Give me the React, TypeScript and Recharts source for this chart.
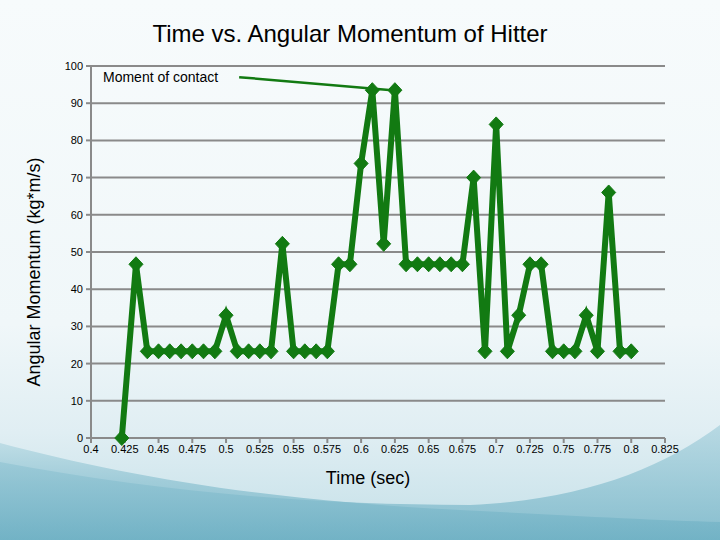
import React from 'react';
import { LineChart, Line, XAxis, YAxis, CartesianGrid, ReferenceLine } from 'recharts';

const times = [
  0.4228, 0.4333, 0.4417, 0.45, 0.4583, 0.4667, 0.475, 0.4833, 0.4917, 0.5,
  0.5083, 0.5167, 0.525, 0.5333, 0.5417, 0.55, 0.5583, 0.5667, 0.575, 0.5833,
  0.5917, 0.6, 0.6083, 0.6167, 0.625, 0.6333, 0.6417, 0.65, 0.6583, 0.6667,
  0.675, 0.6833, 0.6917, 0.7, 0.7083, 0.7167, 0.725, 0.7333, 0.7417, 0.75,
  0.7583, 0.7667, 0.775, 0.7833, 0.7917, 0.8,
];

const momentum = [
  0, 46.7, 23.3, 23.3, 23.3, 23.3, 23.3, 23.3, 23.3, 33.0,
  23.3, 23.3, 23.3, 23.3, 52.2, 23.3, 23.3, 23.3, 23.3, 46.7,
  46.7, 73.8, 93.5, 52.2, 93.5, 46.7, 46.7, 46.7, 46.7, 46.7,
  46.7, 70.0, 23.3, 84.3, 23.3, 33.0, 46.7, 46.7, 23.3, 23.3,
  23.3, 33.0, 23.3, 66.0, 23.3, 23.3,
];

const xTicks = [0.4, 0.425, 0.45, 0.475, 0.5, 0.525, 0.55, 0.575, 0.6, 0.625, 0.65, 0.675, 0.7, 0.725, 0.75, 0.775, 0.8, 0.825];
const yTicks = [0, 10, 20, 30, 40, 50, 60, 70, 80, 90, 100];

const title = 'Time vs. Angular Momentum of Hitter';
const xLabel = 'Time (sec)';
const yLabel = 'Angular Momentum (kg*m/s)';
const noteText = 'Moment of contact';
const noteStart = { x: 0.5097, y: 97.0 };
const noteEnd = { x: 0.625, y: 93.4 };

const data = times.map((t, i) => ({ t, v: momentum[i] }));

const GREEN = '#127a12';
const FONT = '"Liberation Sans", Arial, sans-serif';

const Diamond = (props: any) => {
  const { cx, cy } = props;
  if (cx == null || cy == null) return null;
  const w = 7;
  const h = 7.5;
  return (
    <polygon
      points={`${cx},${cy - h} ${cx + w},${cy} ${cx},${cy + h} ${cx - w},${cy}`}
      fill={GREEN}
      stroke={GREEN}
      strokeWidth={1}
    />
  );
};

const fmt = (v: number) => String(Number(v.toFixed(3)));

export default function App() {
  return (
    <div style={{ position: 'absolute', left: 0, top: 0, width: 720, height: 540, overflow: 'hidden', fontFamily: FONT }}>
      <svg width={720} height={540} style={{ position: 'absolute', left: 0, top: 0 }}>
        <defs>
          <linearGradient id="bg" x1="0" y1="0" x2="0" y2="1">
            <stop offset="0" stopColor="#f7fbfc" />
            <stop offset="0.6" stopColor="#f0f7f9" />
            <stop offset="0.8" stopColor="#e0eef3" />
            <stop offset="1" stopColor="#c4e0e8" />
          </linearGradient>
          <linearGradient id="sw" x1="0" y1="0" x2="0" y2="1">
            <stop offset="0" stopColor="#b3d7e1" />
            <stop offset="0.4" stopColor="#8fc3d2" />
            <stop offset="1" stopColor="#6aaec2" />
          </linearGradient>
          <linearGradient id="sw3" x1="0" y1="0" x2="0" y2="1">
            <stop offset="0" stopColor="#a6d0dc" />
            <stop offset="1" stopColor="#6cafc3" />
          </linearGradient>
        </defs>
        <rect x={0} y={0} width={720} height={540} fill="url(#bg)" />
        <path d="M0,443 C120,475 260,500 460,510 C560,515 650,520 720,522 L720,540 L0,540 Z" fill="url(#sw)" opacity={0.75} />
        <path d="M0,462 C150,490 300,505 470,505 C580,500 660,470 720,425 L720,540 L0,540 Z" fill="url(#sw3)" opacity={0.7} />
      </svg>
      <div style={{ position: 'absolute', left: 0, top: 0 }}>
        <LineChart width={720} height={540} data={data} margin={{ top: 66, right: 55, left: 0, bottom: 0 }}>
          <CartesianGrid vertical={false} stroke="#8a8a8a" strokeWidth={2} />
          <XAxis
            dataKey="t"
            type="number"
            domain={[0.4, 0.825]}
            ticks={xTicks}
            tickFormatter={fmt}
            height={102}
            stroke="#8a8a8a"
            strokeWidth={2}
            tickSize={5}
            tickMargin={2}
            tick={{ fill: '#000', fontSize: 11, fontFamily: FONT }}
            interval={0}
          />
          <YAxis
            type="number"
            domain={[0, 100]}
            ticks={yTicks}
            width={91}
            stroke="#8a8a8a"
            strokeWidth={2}
            tickSize={5}
            tickMargin={3}
            tick={{ fill: '#000', fontSize: 11, fontFamily: FONT }}
            interval={0}
          />
          <ReferenceLine
            segment={[noteStart, noteEnd]}
            stroke={GREEN}
            strokeWidth={2.5}
            ifOverflow="visible"
          />
          <Line
            type="linear"
            dataKey="v"
            stroke={GREEN}
            strokeWidth={6}
            dot={<Diamond />}
            activeDot={false}
            isAnimationActive={false}
          />
        </LineChart>
      </div>
      <div style={{ position: 'absolute', left: 0, width: 700, top: 19, textAlign: 'center', fontSize: 24, color: '#000', lineHeight: '30px' }}>
        {title}
      </div>
      <div style={{ position: 'absolute', left: 103, top: 68, fontSize: 14, color: '#000', lineHeight: '18px' }}>
        {noteText}
      </div>
      <div style={{ position: 'absolute', left: 268, width: 200, top: 467, textAlign: 'center', fontSize: 18, color: '#000', lineHeight: '22px' }}>
        {xLabel}
      </div>
      <div
        style={{
          position: 'absolute',
          left: 34 - 150,
          top: 272 - 11,
          width: 300,
          textAlign: 'center',
          fontSize: 18,
          lineHeight: '22px',
          color: '#000',
          transform: 'rotate(-90deg)',
          transformOrigin: '150px 11px',
        }}
      >
        {yLabel}
      </div>
    </div>
  );
}
